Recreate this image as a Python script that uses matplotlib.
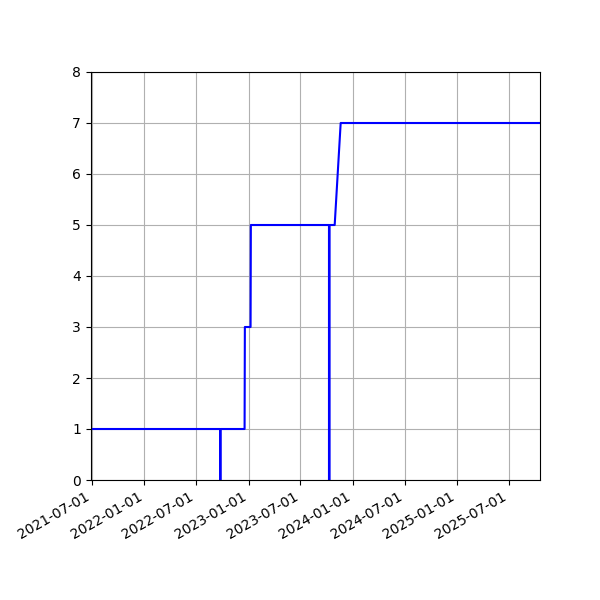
import matplotlib
matplotlib.use("Agg")
import matplotlib.pyplot as plt
import matplotlib.dates as mdates
import pandas as pd

# Points of the step line
dates = ["2021-06-26", "2022-09-23", "2022-09-23", "2022-09-25", "2022-09-25",
         "2022-12-18", "2022-12-19", "2023-01-08", "2023-01-09", "2023-10-10",
         "2023-10-10", "2023-10-12", "2023-10-12", "2023-10-30", "2023-11-20",
         "2025-10-19"]
values = [1, 1, 0, 0, 1, 1, 3, 3, 5, 5, 0, 0, 5, 5, 7, 7]

x = pd.to_datetime(dates)

fig = plt.figure(figsize=(6, 6), dpi=100)
ax = fig.add_axes([0.151, 0.2, 0.749, 0.68])
ax.plot(x, values, color="blue", linewidth=1.5)

ax.set_xlim(x[0], x[-1])
ax.set_ylim(0, 8)
ax.xaxis.set_major_locator(mdates.MonthLocator(bymonth=[1, 7]))
ax.xaxis.set_major_formatter(mdates.DateFormatter("%Y-%m-%d"))
ax.grid(True)

for lbl in ax.get_xticklabels():
    lbl.set_rotation(30)
    lbl.set_ha("right")

plt.savefig("out.png", dpi=100)
